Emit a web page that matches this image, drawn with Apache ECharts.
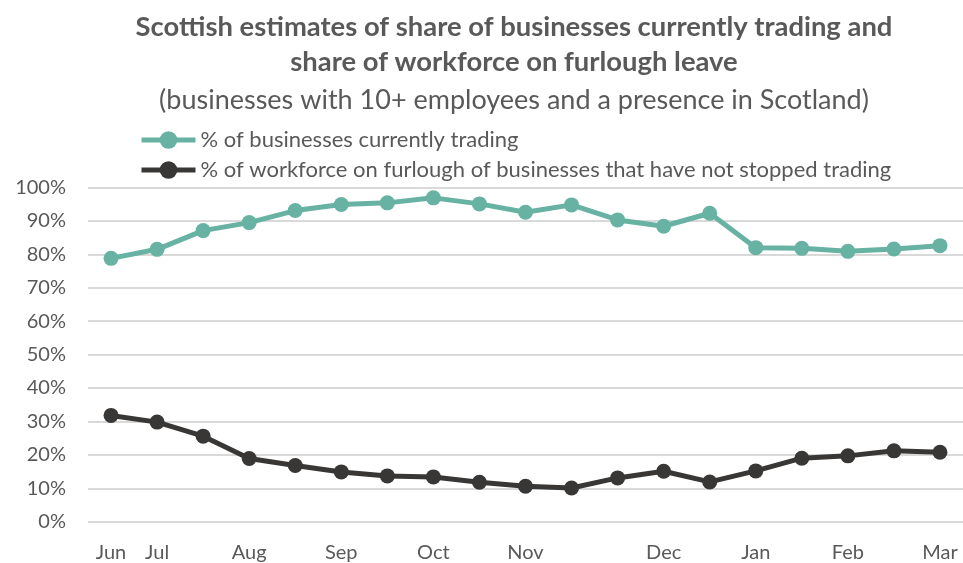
<!DOCTYPE html>
<html>
<head>
<meta charset="utf-8">
<script src="https://cdn.jsdelivr.net/npm/echarts@6/dist/echarts.min.js"></script>
<style>
  html, body { margin: 0; padding: 0; background: #fff; }
  #chart { width: 963px; height: 563px; }
</style>
</head>
<body>
<div id="chart"></div>
<script>
// Survey waves, labelled at the first wave of each month
const categories = ['Jun', 'Jul', '', 'Aug', '', 'Sep', '', 'Oct', '', 'Nov', '', '', 'Dec', '', 'Jan', '', 'Feb', '', 'Mar'];

// % of businesses currently trading
const tradingShare = [78.8, 81.5, 87.1, 89.5, 93.1, 94.9, 95.4, 96.9, 95.1, 92.6, 94.8, 90.3, 88.4, 92.3, 82.0, 81.8, 80.9, 81.6, 82.6];

// % of workforce on furlough (businesses still trading)
const furloughShare = [31.8, 29.8, 25.6, 18.9, 16.8, 14.9, 13.7, 13.4, 11.8, 10.6, 10.1, 13.1, 15.1, 11.9, 15.2, 19.0, 19.7, 21.2, 20.8];

const seriesNames = [
  '% of businesses currently trading',
  '% of workforce on furlough of businesses that have not stopped trading'
];

const FONT = 'Lato, "Open Sans", sans-serif';
const TEXT = '#595959';

const chart = echarts.init(document.getElementById('chart'), null, { renderer: 'canvas' });

chart.setOption({
  animation: false,
  backgroundColor: '#ffffff',
  title: [
    {
      text: 'Scottish estimates of share of businesses currently trading and\nshare of workforce on furlough leave',
      left: 514,
      top: 10,
      padding: 0,
      textAlign: 'center',
      textStyle: { fontFamily: FONT, fontWeight: 'bold', fontSize: 27.4, lineHeight: 35, color: TEXT }
    },
    {
      text: '(businesses with 10+ employees and a presence in Scotland)',
      left: 514,
      top: 85,
      padding: 0,
      textAlign: 'center',
      textStyle: { fontFamily: FONT, fontWeight: 'normal', fontSize: 27, lineHeight: 30, color: TEXT }
    }
  ],
  legend: {
    orient: 'vertical',
    left: 139,
    top: 129,
    padding: 0,
    itemWidth: 54,
    itemHeight: 22,
    itemGap: 8,
    data: seriesNames,
    lineStyle: { width: 5 },
    textStyle: { fontFamily: FONT, fontSize: 22, lineHeight: 22, color: TEXT }
  },
  grid: { left: 88, right: 0, top: 187.5, bottom: 41.3, containLabel: false },
  xAxis: {
    type: 'category',
    data: categories,
    boundaryGap: true,
    axisLine: { show: false },
    axisTick: { show: false },
    axisLabel: { interval: 0, margin: 21, fontFamily: FONT, fontSize: 20, color: TEXT }
  },
  yAxis: {
    type: 'value',
    min: 0,
    max: 100,
    interval: 10,
    axisLine: { show: false },
    axisTick: { show: false },
    axisLabel: { formatter: '{value}%', margin: 22, fontFamily: FONT, fontSize: 20, color: TEXT },
    splitLine: { lineStyle: { color: '#d9d9d9', width: 2 } }
  },
  series: [
    {
      name: seriesNames[0],
      type: 'line',
      data: tradingShare,
      symbol: 'circle',
      symbolSize: 15,
      color: '#67b2a2',
      lineStyle: { width: 5, color: '#67b2a2' },
      itemStyle: { color: '#67b2a2' }
    },
    {
      name: seriesNames[1],
      type: 'line',
      data: furloughShare,
      symbol: 'circle',
      symbolSize: 15,
      color: '#393735',
      lineStyle: { width: 5, color: '#393735' },
      itemStyle: { color: '#393735' }
    }
  ]
});
</script>
</body>
</html>
